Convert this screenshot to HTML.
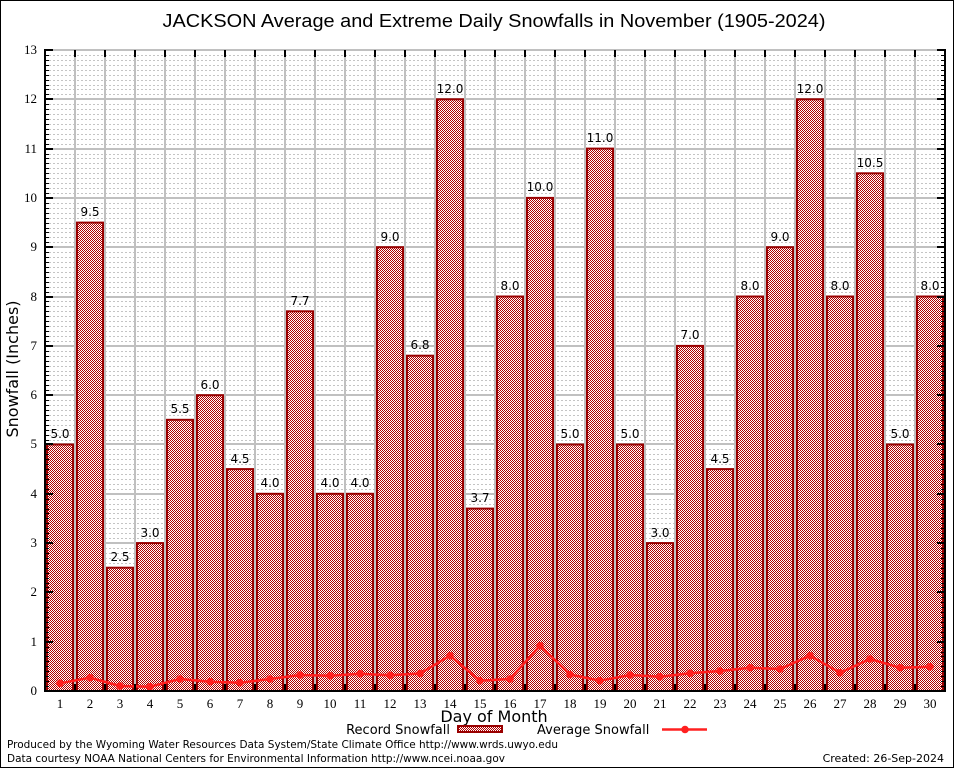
<!DOCTYPE html>
<html>
<head>
<meta charset="utf-8">
<style>
html,body{margin:0;padding:0;background:#fff;}
svg{display:block;}
</style>
</head>
<body>
<svg width="954" height="768" viewBox="0 0 954 768" xmlns="http://www.w3.org/2000/svg">
<defs>
<pattern id="chk" x="0" y="0" width="2" height="2" patternUnits="userSpaceOnUse">
<rect x="0" y="0" width="2" height="2" fill="#ffffff"/>
<rect x="0" y="0" width="1" height="1" fill="#b00000"/>
<rect x="1" y="1" width="1" height="1" fill="#b00000"/>
</pattern>
</defs>
<rect x="0" y="0" width="954" height="768" fill="#fff"/>
<rect x="0.5" y="0.5" width="953" height="767" fill="none" stroke="#000" stroke-width="1"/>

<!-- title -->
<text x="494" y="27" text-anchor="middle" font-family="Liberation Sans, sans-serif" font-size="18" textLength="663" lengthAdjust="spacingAndGlyphs" fill="#000">JACKSON Average and Extreme Daily Snowfalls in November (1905-2024)</text>

<!-- minor dashed gridlines -->
<path fill="none" stroke="#c4c4c4" stroke-width="1" stroke-dasharray="2,2" d="
M45 686.5H945 M45 681.5H945 M45 676.5H945 M45 671.5H945 M45 666.5H945 M45 661.5H945 M45 656.5H945 M45 652.5H945 M45 647.5H945
M45 637.5H945 M45 632.5H945 M45 627.5H945 M45 622.5H945 M45 617.5H945 M45 612.5H945 M45 607.5H945 M45 602.5H945 M45 597.5H945
M45 587.5H945 M45 583.5H945 M45 578.5H945 M45 573.5H945 M45 568.5H945 M45 563.5H945 M45 558.5H945 M45 553.5H945 M45 548.5H945
M45 538.5H945 M45 533.5H945 M45 528.5H945 M45 523.5H945 M45 518.5H945 M45 513.5H945 M45 509.5H945 M45 504.5H945 M45 499.5H945
M45 489.5H945 M45 484.5H945 M45 479.5H945 M45 474.5H945 M45 469.5H945 M45 464.5H945 M45 459.5H945 M45 454.5H945 M45 449.5H945
M45 440.5H945 M45 435.5H945 M45 430.5H945 M45 425.5H945 M45 420.5H945 M45 415.5H945 M45 410.5H945 M45 405.5H945 M45 400.5H945
M45 390.5H945 M45 385.5H945 M45 380.5H945 M45 375.5H945 M45 371.5H945 M45 366.5H945 M45 361.5H945 M45 356.5H945 M45 351.5H945
M45 341.5H945 M45 336.5H945 M45 331.5H945 M45 326.5H945 M45 321.5H945 M45 316.5H945 M45 311.5H945 M45 306.5H945 M45 301.5H945
M45 292.5H945 M45 287.5H945 M45 282.5H945 M45 277.5H945 M45 272.5H945 M45 267.5H945 M45 262.5H945 M45 257.5H945 M45 252.5H945
M45 242.5H945 M45 237.5H945 M45 232.5H945 M45 228.5H945 M45 223.5H945 M45 218.5H945 M45 213.5H945 M45 208.5H945 M45 203.5H945
M45 193.5H945 M45 188.5H945 M45 183.5H945 M45 178.5H945 M45 173.5H945 M45 168.5H945 M45 163.5H945 M45 158.5H945 M45 154.5H945
M45 144.5H945 M45 139.5H945 M45 134.5H945 M45 129.5H945 M45 124.5H945 M45 119.5H945 M45 114.5H945 M45 109.5H945 M45 104.5H945
M45 94.5H945 M45 89.5H945 M45 85.5H945 M45 80.5H945 M45 75.5H945 M45 70.5H945 M45 65.5H945 M45 60.5H945 M45 55.5H945"/>

<!-- major horizontal gridlines -->
<path fill="none" stroke="#c0c0c0" stroke-width="2" d="
M45 642H945 M45 592H945 M45 543H945 M45 494H945 M45 444H945 M45 395H945 M45 346H945 M45 297H945 M45 247H945 M45 198H945 M45 149H945 M45 99H945 M45 50H945"/>

<!-- vertical gridlines -->
<path fill="none" stroke="#c0c0c0" stroke-width="2" d="
M75 50V691 M105 50V691 M135 50V691 M165 50V691 M195 50V691 M225 50V691 M255 50V691 M285 50V691 M315 50V691 M345 50V691
M375 50V691 M405 50V691 M435 50V691 M465 50V691 M495 50V691 M525 50V691 M555 50V691 M585 50V691 M615 50V691 M645 50V691
M675 50V691 M705 50V691 M735 50V691 M765 50V691 M795 50V691 M825 50V691 M855 50V691 M885 50V691 M915 50V691"/>

<!-- bars -->
<g fill="url(#chk)" stroke="#990000" stroke-width="2">
<rect x="47" y="444.5" width="26" height="246.5"/>
<rect x="77" y="222.6" width="26" height="468.4"/>
<rect x="107" y="567.7" width="26" height="123.3"/>
<rect x="137" y="543.1" width="26" height="147.9"/>
<rect x="167" y="419.8" width="26" height="271.2"/>
<rect x="197" y="395.2" width="26" height="295.8"/>
<rect x="227" y="469.1" width="26" height="221.9"/>
<rect x="257" y="493.8" width="26" height="197.2"/>
<rect x="287" y="311.3" width="26" height="379.7"/>
<rect x="317" y="493.8" width="26" height="197.2"/>
<rect x="347" y="493.8" width="26" height="197.2"/>
<rect x="377" y="247.2" width="26" height="443.8"/>
<rect x="407" y="355.7" width="26" height="335.3"/>
<rect x="437" y="99.3" width="26" height="591.7"/>
<rect x="467" y="508.6" width="26" height="182.4"/>
<rect x="497" y="296.5" width="26" height="394.5"/>
<rect x="527" y="197.9" width="26" height="493.1"/>
<rect x="557" y="444.5" width="26" height="246.5"/>
<rect x="587" y="148.6" width="26" height="542.4"/>
<rect x="617" y="444.5" width="26" height="246.5"/>
<rect x="647" y="543.1" width="26" height="147.9"/>
<rect x="677" y="345.9" width="26" height="345.1"/>
<rect x="707" y="469.1" width="26" height="221.9"/>
<rect x="737" y="296.5" width="26" height="394.5"/>
<rect x="767" y="247.2" width="26" height="443.8"/>
<rect x="797" y="99.3" width="26" height="591.7"/>
<rect x="827" y="296.5" width="26" height="394.5"/>
<rect x="857" y="173.3" width="26" height="517.7"/>
<rect x="887" y="444.5" width="26" height="246.5"/>
<rect x="917" y="296.5" width="26" height="394.5"/>
</g>

<!-- bar labels -->
<g font-family="DejaVu Sans, sans-serif" font-size="12" fill="#000" text-anchor="middle">
<text x="60" y="438">5.0</text>
<text x="90" y="216">9.5</text>
<text x="120" y="561">2.5</text>
<text x="150" y="537">3.0</text>
<text x="180" y="413">5.5</text>
<text x="210" y="389">6.0</text>
<text x="240" y="463">4.5</text>
<text x="270" y="487">4.0</text>
<text x="300" y="305">7.7</text>
<text x="330" y="487">4.0</text>
<text x="360" y="487">4.0</text>
<text x="390" y="241">9.0</text>
<text x="420" y="349">6.8</text>
<text x="450" y="93">12.0</text>
<text x="480" y="502">3.7</text>
<text x="510" y="290">8.0</text>
<text x="540" y="191">10.0</text>
<text x="570" y="438">5.0</text>
<text x="600" y="142">11.0</text>
<text x="630" y="438">5.0</text>
<text x="660" y="537">3.0</text>
<text x="690" y="339">7.0</text>
<text x="720" y="463">4.5</text>
<text x="750" y="290">8.0</text>
<text x="780" y="241">9.0</text>
<text x="810" y="93">12.0</text>
<text x="840" y="290">8.0</text>
<text x="870" y="167">10.5</text>
<text x="900" y="438">5.0</text>
<text x="930" y="290">8.0</text>
</g>

<!-- average line -->
<polyline fill="none" stroke="#ff2020" stroke-width="2.5" stroke-linejoin="round" points="60,683.3 90,677.7 120,686 150,686.7 180,679 210,681.7 240,682.7 270,679 300,675 330,675.7 360,673.7 390,675.3 420,673.5 450,655.7 480,680.7 510,679 540,645.7 570,674.5 600,680.7 630,675 660,676.7 690,673.3 720,671 750,667.7 780,669 810,655.7 840,672.7 870,659 900,667.7 930,666.7"/>
<g fill="#ff2020">
<circle cx="60" cy="683.3" r="3.8"/><circle cx="90" cy="677.7" r="3.8"/><circle cx="120" cy="686" r="3.8"/><circle cx="150" cy="686.7" r="3.8"/><circle cx="180" cy="679" r="3.8"/>
<circle cx="210" cy="681.7" r="3.8"/><circle cx="240" cy="682.7" r="3.8"/><circle cx="270" cy="679" r="3.8"/><circle cx="300" cy="675" r="3.8"/><circle cx="330" cy="675.7" r="3.8"/>
<circle cx="360" cy="673.7" r="3.8"/><circle cx="390" cy="675.3" r="3.8"/><circle cx="420" cy="673.5" r="3.8"/><circle cx="450" cy="655.7" r="3.8"/><circle cx="480" cy="680.7" r="3.8"/>
<circle cx="510" cy="679" r="3.8"/><circle cx="540" cy="645.7" r="3.8"/><circle cx="570" cy="674.5" r="3.8"/><circle cx="600" cy="680.7" r="3.8"/><circle cx="630" cy="675" r="3.8"/>
<circle cx="660" cy="676.7" r="3.8"/><circle cx="690" cy="673.3" r="3.8"/><circle cx="720" cy="671" r="3.8"/><circle cx="750" cy="667.7" r="3.8"/><circle cx="780" cy="669" r="3.8"/>
<circle cx="810" cy="655.7" r="3.8"/><circle cx="840" cy="672.7" r="3.8"/><circle cx="870" cy="659" r="3.8"/><circle cx="900" cy="667.7" r="3.8"/><circle cx="930" cy="666.7" r="3.8"/>
</g>

<!-- axes frame -->
<line x1="45" y1="50" x2="945" y2="50" stroke="#c0c0c0" stroke-width="2"/>
<line x1="945" y1="49" x2="945" y2="692" stroke="#000" stroke-width="2"/>
<line x1="45" y1="49" x2="45" y2="692" stroke="#000" stroke-width="2"/>
<line x1="44" y1="691" x2="946" y2="691" stroke="#000" stroke-width="2"/>

<!-- left minor ticks -->
<path fill="none" stroke="#000" stroke-width="1" d="
M45 686.5h4 M45 681.5h4 M45 676.5h4 M45 671.5h4 M45 666.5h4 M45 661.5h4 M45 656.5h4 M45 652.5h4 M45 647.5h4
M45 637.5h4 M45 632.5h4 M45 627.5h4 M45 622.5h4 M45 617.5h4 M45 612.5h4 M45 607.5h4 M45 602.5h4 M45 597.5h4
M45 587.5h4 M45 583.5h4 M45 578.5h4 M45 573.5h4 M45 568.5h4 M45 563.5h4 M45 558.5h4 M45 553.5h4 M45 548.5h4
M45 538.5h4 M45 533.5h4 M45 528.5h4 M45 523.5h4 M45 518.5h4 M45 513.5h4 M45 509.5h4 M45 504.5h4 M45 499.5h4
M45 489.5h4 M45 484.5h4 M45 479.5h4 M45 474.5h4 M45 469.5h4 M45 464.5h4 M45 459.5h4 M45 454.5h4 M45 449.5h4
M45 440.5h4 M45 435.5h4 M45 430.5h4 M45 425.5h4 M45 420.5h4 M45 415.5h4 M45 410.5h4 M45 405.5h4 M45 400.5h4
M45 390.5h4 M45 385.5h4 M45 380.5h4 M45 375.5h4 M45 371.5h4 M45 366.5h4 M45 361.5h4 M45 356.5h4 M45 351.5h4
M45 341.5h4 M45 336.5h4 M45 331.5h4 M45 326.5h4 M45 321.5h4 M45 316.5h4 M45 311.5h4 M45 306.5h4 M45 301.5h4
M45 292.5h4 M45 287.5h4 M45 282.5h4 M45 277.5h4 M45 272.5h4 M45 267.5h4 M45 262.5h4 M45 257.5h4 M45 252.5h4
M45 242.5h4 M45 237.5h4 M45 232.5h4 M45 228.5h4 M45 223.5h4 M45 218.5h4 M45 213.5h4 M45 208.5h4 M45 203.5h4
M45 193.5h4 M45 188.5h4 M45 183.5h4 M45 178.5h4 M45 173.5h4 M45 168.5h4 M45 163.5h4 M45 158.5h4 M45 154.5h4
M45 144.5h4 M45 139.5h4 M45 134.5h4 M45 129.5h4 M45 124.5h4 M45 119.5h4 M45 114.5h4 M45 109.5h4 M45 104.5h4
M45 94.5h4 M45 89.5h4 M45 85.5h4 M45 80.5h4 M45 75.5h4 M45 70.5h4 M45 65.5h4 M45 60.5h4 M45 55.5h4"/>
<!-- right minor ticks -->
<path fill="none" stroke="#000" stroke-width="1" d="
M945 686.5h-4 M945 681.5h-4 M945 676.5h-4 M945 671.5h-4 M945 666.5h-4 M945 661.5h-4 M945 656.5h-4 M945 652.5h-4 M945 647.5h-4
M945 637.5h-4 M945 632.5h-4 M945 627.5h-4 M945 622.5h-4 M945 617.5h-4 M945 612.5h-4 M945 607.5h-4 M945 602.5h-4 M945 597.5h-4
M945 587.5h-4 M945 583.5h-4 M945 578.5h-4 M945 573.5h-4 M945 568.5h-4 M945 563.5h-4 M945 558.5h-4 M945 553.5h-4 M945 548.5h-4
M945 538.5h-4 M945 533.5h-4 M945 528.5h-4 M945 523.5h-4 M945 518.5h-4 M945 513.5h-4 M945 509.5h-4 M945 504.5h-4 M945 499.5h-4
M945 489.5h-4 M945 484.5h-4 M945 479.5h-4 M945 474.5h-4 M945 469.5h-4 M945 464.5h-4 M945 459.5h-4 M945 454.5h-4 M945 449.5h-4
M945 440.5h-4 M945 435.5h-4 M945 430.5h-4 M945 425.5h-4 M945 420.5h-4 M945 415.5h-4 M945 410.5h-4 M945 405.5h-4 M945 400.5h-4
M945 390.5h-4 M945 385.5h-4 M945 380.5h-4 M945 375.5h-4 M945 371.5h-4 M945 366.5h-4 M945 361.5h-4 M945 356.5h-4 M945 351.5h-4
M945 341.5h-4 M945 336.5h-4 M945 331.5h-4 M945 326.5h-4 M945 321.5h-4 M945 316.5h-4 M945 311.5h-4 M945 306.5h-4 M945 301.5h-4
M945 292.5h-4 M945 287.5h-4 M945 282.5h-4 M945 277.5h-4 M945 272.5h-4 M945 267.5h-4 M945 262.5h-4 M945 257.5h-4 M945 252.5h-4
M945 242.5h-4 M945 237.5h-4 M945 232.5h-4 M945 228.5h-4 M945 223.5h-4 M945 218.5h-4 M945 213.5h-4 M945 208.5h-4 M945 203.5h-4
M945 193.5h-4 M945 188.5h-4 M945 183.5h-4 M945 178.5h-4 M945 173.5h-4 M945 168.5h-4 M945 163.5h-4 M945 158.5h-4 M945 154.5h-4
M945 144.5h-4 M945 139.5h-4 M945 134.5h-4 M945 129.5h-4 M945 124.5h-4 M945 119.5h-4 M945 114.5h-4 M945 109.5h-4 M945 104.5h-4
M945 94.5h-4 M945 89.5h-4 M945 85.5h-4 M945 80.5h-4 M945 75.5h-4 M945 70.5h-4 M945 65.5h-4 M945 60.5h-4 M945 55.5h-4"/>
<!-- major y ticks -->
<path fill="none" stroke="#000" stroke-width="2" d="
M45 642h8 M45 592h8 M45 543h8 M45 494h8 M45 444h8 M45 395h8 M45 346h8 M45 297h8 M45 247h8 M45 198h8 M45 149h8 M45 99h8 M45 50h8
M945 642h-8 M945 592h-8 M945 543h-8 M945 494h-8 M945 444h-8 M945 395h-8 M945 346h-8 M945 297h-8 M945 247h-8 M945 198h-8 M945 149h-8 M945 99h-8 M945 50h-8"/>
<!-- x ticks -->
<path fill="none" stroke="#000" stroke-width="2" d="
M75 691v-7 M105 691v-7 M135 691v-7 M165 691v-7 M195 691v-7 M225 691v-7 M255 691v-7 M285 691v-7 M315 691v-7 M345 691v-7
M375 691v-7 M405 691v-7 M435 691v-7 M465 691v-7 M495 691v-7 M525 691v-7 M555 691v-7 M585 691v-7 M615 691v-7 M645 691v-7
M675 691v-7 M705 691v-7 M735 691v-7 M765 691v-7 M795 691v-7 M825 691v-7 M855 691v-7 M885 691v-7 M915 691v-7
M75 50v7 M105 50v7 M135 50v7 M165 50v7 M195 50v7 M225 50v7 M255 50v7 M285 50v7 M315 50v7 M345 50v7
M375 50v7 M405 50v7 M435 50v7 M465 50v7 M495 50v7 M525 50v7 M555 50v7 M585 50v7 M615 50v7 M645 50v7
M675 50v7 M705 50v7 M735 50v7 M765 50v7 M795 50v7 M825 50v7 M855 50v7 M885 50v7 M915 50v7"/>

<!-- y tick labels -->
<g font-family="Liberation Serif, serif" font-size="13" fill="#000" text-anchor="end">
<text x="37" y="695">0</text>
<text x="37" y="646">1</text>
<text x="37" y="596">2</text>
<text x="37" y="547">3</text>
<text x="37" y="498">4</text>
<text x="37" y="448">5</text>
<text x="37" y="399">6</text>
<text x="37" y="350">7</text>
<text x="37" y="301">8</text>
<text x="37" y="251">9</text>
<text x="37" y="202">10</text>
<text x="37" y="153">11</text>
<text x="37" y="103">12</text>
<text x="37" y="54">13</text>
</g>

<!-- x tick labels -->
<g font-family="Liberation Serif, serif" font-size="13" fill="#000" text-anchor="middle">
<text x="60" y="708">1</text><text x="90" y="708">2</text><text x="120" y="708">3</text><text x="150" y="708">4</text><text x="180" y="708">5</text>
<text x="210" y="708">6</text><text x="240" y="708">7</text><text x="270" y="708">8</text><text x="300" y="708">9</text><text x="330" y="708">10</text>
<text x="360" y="708">11</text><text x="390" y="708">12</text><text x="420" y="708">13</text><text x="450" y="708">14</text><text x="480" y="708">15</text>
<text x="510" y="708">16</text><text x="540" y="708">17</text><text x="570" y="708">18</text><text x="600" y="708">19</text><text x="630" y="708">20</text>
<text x="660" y="708">21</text><text x="690" y="708">22</text><text x="720" y="708">23</text><text x="750" y="708">24</text><text x="780" y="708">25</text>
<text x="810" y="708">26</text><text x="840" y="708">27</text><text x="870" y="708">28</text><text x="900" y="708">29</text><text x="930" y="708">30</text>
</g>

<!-- axis labels -->
<text x="494" y="722" text-anchor="middle" font-family="DejaVu Sans, sans-serif" font-size="16" fill="#000">Day of Month</text>
<text transform="translate(18,369) rotate(-90)" text-anchor="middle" font-family="DejaVu Sans, sans-serif" font-size="16" fill="#000">Snowfall (Inches)</text>

<!-- legend -->
<text x="450" y="734" text-anchor="end" font-family="DejaVu Sans, sans-serif" font-size="13" fill="#000">Record Snowfall</text>
<rect x="458" y="726" width="44" height="6" fill="url(#chk)" stroke="#990000" stroke-width="2"/>
<text x="537" y="734" font-family="DejaVu Sans, sans-serif" font-size="13" fill="#000">Average Snowfall</text>
<line x1="662" y1="729.5" x2="707" y2="729.5" stroke="#ff2020" stroke-width="2.5"/>
<circle cx="685" cy="729.5" r="3.8" fill="#ff2020"/>

<!-- footer -->
<text x="7" y="748" font-family="DejaVu Sans, sans-serif" font-size="11" textLength="551" lengthAdjust="spacingAndGlyphs" fill="#000">Produced by the Wyoming Water Resources Data System/State Climate Office http://www.wrds.uwyo.edu</text>
<text x="7" y="762" font-family="DejaVu Sans, sans-serif" font-size="11" textLength="498" lengthAdjust="spacingAndGlyphs" fill="#000">Data courtesy NOAA National Centers for Environmental Information http://www.ncei.noaa.gov</text>
<text x="944" y="762" text-anchor="end" font-family="DejaVu Sans, sans-serif" font-size="11" fill="#000">Created: 26-Sep-2024</text>
</svg>
</body>
</html>
